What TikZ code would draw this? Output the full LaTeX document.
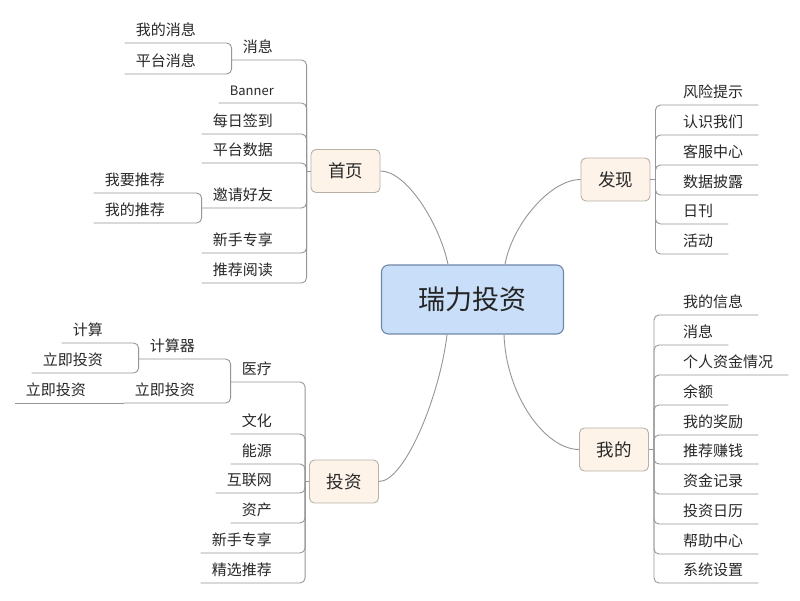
\documentclass[tikz,border=0pt]{standalone}
\usepackage{fontspec}
\setmainfont{Noto Sans CJK SC}
\definecolor{linec}{RGB}{150,150,150}
\definecolor{rootfill}{RGB}{201,222,248}
\definecolor{rootdraw}{RGB}{111,135,168}
\definecolor{mainfill}{RGB}{253,243,233}
\definecolor{maindraw}{RGB}{184,176,166}
\definecolor{txt}{RGB}{40,40,40}
\begin{document}
\begin{tikzpicture}[x=1pt,y=-1pt,
  br/.style={draw=linec,line width=0.9pt,rounded corners=5pt},
  curve/.style={draw=linec,line width=0.9pt},
  rootbox/.style={draw=rootdraw,fill=rootfill,line width=1.1pt,rounded corners=7pt,
    minimum width=182pt,minimum height=69pt,inner sep=0pt,text=txt!90!black,
    font=\fontsize{27}{30}\selectfont},
  mainbox/.style={draw=maindraw,fill=mainfill,line width=0.9pt,rounded corners=5pt,
    minimum width=69pt,minimum height=43pt,inner sep=0pt,text=txt,
    font=\fontsize{17.5}{20}\selectfont},
  tp/.style={inner ysep=0pt,text height=11pt,text depth=7pt,text=txt,
    font=\fontsize{15}{18}\selectfont},
  lt/.style={tp,anchor=south east,inner xsep=11pt},
  rt/.style={tp,anchor=south west,inner xsep=15pt}
]
\useasboundingbox[fill=white] (0,0) rectangle (800,600);

% main nodes
\node[rootbox] (root) at (472.5,299.5) {瑞力投资};
\node[mainbox] (shouye) at (345.5,171) {首页};
\node[mainbox] (faxian) at (615.5,179.5) {发现};
\node[mainbox] (wode) at (614,449.5) {我的};
\node[mainbox] (touzi) at (344,481.5) {投资};

% central curves
\draw[curve] ([xshift=-24.5pt]root.north) .. controls (440,225) and (407,171) .. (shouye.east);
\draw[curve] ([xshift=32.5pt]root.north) .. controls (512,225) and (550,179.5) .. (faxian.west);
\draw[curve] ([xshift=-25.5pt]root.south) .. controls (440,395) and (405,481.5) .. (touzi.east);
\draw[curve] ([xshift=31.5pt]root.south) .. controls (506,395) and (545,449.5) .. (wode.west);

% trunk coordinates
\coordinate (syt) at ([xshift=-4pt]shouye.west);
\coordinate (fxt) at ([xshift=5pt]faxian.east);
\coordinate (wdt) at ([xshift=5pt]wode.east);
\coordinate (tzt) at ([xshift=-4pt]touzi.west);
\draw[br] (shouye.west) -- (syt);
\draw[br] (faxian.east) -- (fxt);
\draw[br] (wode.east) -- (wdt);
\draw[br] (touzi.west) -- (tzt);

% ===== 首页 =====
\node[lt] (sy1) at (284,60) {消息};
\node[lt,font=\fontsize{13}{15}\selectfont] (sy2) at (285,103) {Banner};
\node[lt] (sy3) at (284,134) {每日签到};
\node[lt] (sy4) at (284,163) {平台数据};
\node[lt] (sy5) at (284,208) {邀请好友};
\node[lt] (sy6) at (284,253) {新手专享};
\node[lt] (sy7) at (284,283) {推荐阅读};
\foreach \n in {sy1,sy2,sy3,sy4,sy5,sy6,sy7}
  \draw[br] (syt) |- (\n.south west);

\node[lt] (sy11) at (207,43) {我的消息};
\node[lt] (sy12) at (207,74) {平台消息};
\foreach \n in {sy11,sy12}
  \draw[br] (sy1.south west) |- (\n.south west);

\node[lt] (sy51) at (176,193) {我要推荐};
\node[lt] (sy52) at (176,223) {我的推荐};
\foreach \n in {sy51,sy52}
  \draw[br] (sy5.south west) |- (\n.south west);

% ===== 投资 =====
\node[lt] (tz1) at (283,382) {医疗};
\node[lt] (tz2) at (283,434) {文化};
\node[lt] (tz3) at (283,464) {能源};
\node[lt] (tz4) at (283,493) {互联网};
\node[lt] (tz5) at (283,523) {资产};
\node[lt] (tz6) at (283,553) {新手专享};
\node[lt] (tz7) at (283,583) {精选推荐};
\foreach \n in {tz1,tz2,tz3,tz4,tz5,tz6,tz7}
  \draw[br] (tzt) |- (\n.south west);

\node[lt] (tz11) at (206,359) {计算器};
\node[lt] (tz12) at (206,403) {立即投资};
\foreach \n in {tz11,tz12}
  \draw[br] (tz1.south west) |- (\n.south west);

\node[lt] (tz111) at (114,343) {计算};
\node[lt] (tz112) at (114,373) {立即投资};
\foreach \n in {tz111,tz112}
  \draw[br] (tz11.south west) |- (\n.south west);

\node[lt] (tz121) at (97,403) {立即投资};
\draw[br] (tz12.south west) -- (tz121.south west);

% ===== 发现 =====
\node[rt] (fx1) at (668,105) {风险提示};
\node[rt] (fx2) at (668,135) {认识我们};
\node[rt] (fx3) at (668,165) {客服中心};
\node[rt] (fx4) at (668,195) {数据披露};
\node[rt] (fx5) at (668,224) {日刊};
\node[rt] (fx6) at (668,254) {活动};
\foreach \n in {fx1,fx2,fx3,fx4,fx5,fx6}
  \draw[br] (fxt) |- (\n.south east);

% ===== 我的 =====
\node[rt] (wd1) at (668,315) {我的信息};
\node[rt] (wd2) at (668,345) {消息};
\node[rt] (wd3) at (668,375) {个人资金情况};
\node[rt] (wd4) at (668,405) {余额};
\node[rt] (wd5) at (668,435) {我的奖励};
\node[rt] (wd6) at (668,464) {推荐赚钱};
\node[rt] (wd7) at (668,494) {资金记录};
\node[rt] (wd8) at (668,524) {投资日历};
\node[rt] (wd9) at (668,554) {帮助中心};
\node[rt] (wd10) at (668,583) {系统设置};
\foreach \n in {wd1,wd2,wd3,wd4,wd5,wd6,wd7,wd8,wd9,wd10}
  \draw[br] (wdt) |- (\n.south east);
\end{tikzpicture}
\end{document}
